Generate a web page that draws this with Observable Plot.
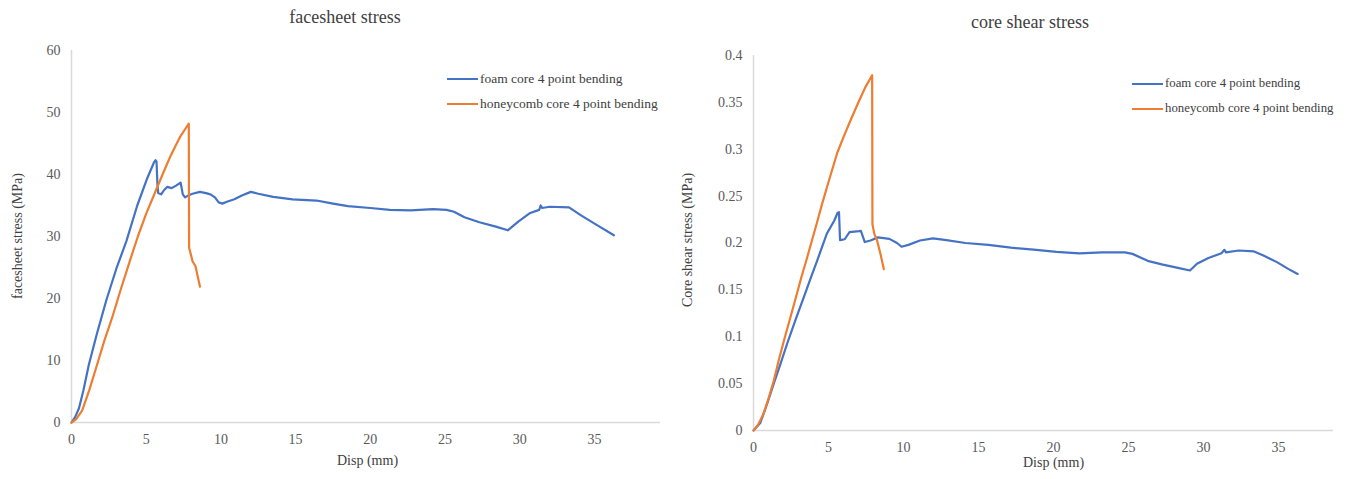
<!DOCTYPE html>
<html>
<head>
<meta charset="utf-8">
<script src="https://cdn.jsdelivr.net/npm/d3@7"></script>
<script src="https://cdn.jsdelivr.net/npm/@observablehq/plot@0.6"></script>
<style>
  html, body { margin: 0; padding: 0; background: #fff; overflow: hidden; }
  #wrap { position: relative; width: 1347px; height: 479px; font-family: 'Liberation Serif', 'DejaVu Serif', serif; }
  .abs { position: absolute; white-space: nowrap; font-family: 'Liberation Serif', serif; }
  .title { font-size: 18px; color: #404040; transform: translateX(-50%); }
  .axt { font-size: 14px; color: #404040; }
  .ytitle { font-size: 14px; color: #404040; transform: translate(-50%, -50%) rotate(-90deg); }
  .leg { font-family: 'Liberation Serif', serif; font-size: 13.5px; color: #404040; display: flex; align-items: center; }
  .leg span.sw { display: inline-block; width: 31px; height: 2px; margin-right: 2px; flex: none; }
</style>
</head>
<body>
<div id="wrap"></div>
<script>
// ---------- data ----------
const seriesNames = ["foam core 4 point bending", "honeycomb core 4 point bending"];
const seriesColors = ["#4472C4", "#ED7D31"];

const xTicks = [0, 5, 10, 15, 20, 25, 30, 35];
const faceTicks = [0, 10, 20, 30, 40, 50, 60];
const shearTicks = [0, 0.05, 0.1, 0.15, 0.2, 0.25, 0.3, 0.35, 0.4];

// facesheet stress – foam core
const foamFaceX = [0, 0.25, 0.5, 0.8, 1.16, 1.7, 2.34, 3.0, 3.68, 4.4, 5.07, 5.51, 5.62, 5.69, 5.75, 5.8, 6.0, 6.2, 6.4, 6.7, 7.0, 7.3, 7.45, 7.6, 7.8, 8.1, 8.6, 9.0, 9.3, 9.6, 9.85, 10.1, 10.4, 10.9, 11.4, 12.0, 12.5, 13.5, 14.8, 16.4, 17.5, 18.5, 20.0, 21.3, 22.7, 24.2, 25.1, 25.6, 26.3, 27.3, 28.4, 29.2, 29.9, 30.7, 31.3, 31.4, 31.5, 32.0, 33.3, 34.1, 35.2, 36.3];
const foamFaceY = [0, 0.9, 2.3, 5.2, 9.3, 14.3, 19.8, 24.8, 29.3, 35.0, 39.4, 41.9, 42.3, 42.1, 38.5, 37.0, 36.8, 37.5, 38.0, 37.8, 38.2, 38.7, 36.8, 36.3, 36.6, 36.9, 37.2, 37.0, 36.8, 36.3, 35.5, 35.3, 35.6, 36.0, 36.6, 37.2, 36.9, 36.4, 36.0, 35.8, 35.3, 34.9, 34.6, 34.3, 34.2, 34.4, 34.3, 34.0, 33.1, 32.3, 31.6, 31.0, 32.4, 33.8, 34.3, 35.0, 34.6, 34.8, 34.7, 33.4, 31.8, 30.2];

// facesheet stress – honeycomb core
const honeyFaceX = [0, 0.3, 0.71, 1.2, 1.72, 2.2, 2.72, 3.3, 3.95, 4.44, 5.0, 5.73, 6.2, 6.63, 7.0, 7.3, 7.6, 7.85, 7.87, 8.0, 8.1, 8.3, 8.45, 8.6];
const honeyFaceY = [0, 0.5, 1.9, 5.3, 9.4, 13.2, 16.9, 21.5, 26.4, 30.0, 33.7, 37.9, 40.6, 43.0, 44.8, 46.2, 47.3, 48.2, 28.2, 27.0, 26.0, 25.2, 23.5, 21.9];

// core shear stress – foam core
const foamShearX = [0, 0.45, 0.9, 1.35, 1.8, 2.24, 2.8, 3.35, 3.8, 4.24, 4.89, 5.39, 5.6, 5.7, 5.77, 6.08, 6.4, 7.04, 7.16, 7.42, 7.8, 8.3, 9.06, 9.57, 9.87, 10.33, 11.1, 11.97, 12.86, 14.13, 15.65, 17.16, 18.68, 20.2, 21.72, 23.24, 24.76, 25.27, 26.28, 27.29, 28.3, 29.1, 29.57, 30.33, 31.2, 31.4, 31.5, 32.35, 33.37, 34.0, 34.9, 35.65, 36.28];
const foamShearY = [0, 0.008, 0.028, 0.05, 0.071, 0.0925, 0.118, 0.142, 0.162, 0.181, 0.21, 0.224, 0.232, 0.233, 0.203, 0.204, 0.2116, 0.2126, 0.213, 0.201, 0.2027, 0.206, 0.2044, 0.2, 0.196, 0.198, 0.2027, 0.205, 0.203, 0.2, 0.198, 0.195, 0.193, 0.1906, 0.189, 0.19, 0.19, 0.1884, 0.181, 0.177, 0.1735, 0.1707, 0.1778, 0.184, 0.189, 0.1927, 0.19, 0.192, 0.191, 0.1867, 0.1796, 0.1724, 0.167];

// core shear stress – honeycomb core
const honeyShearX = [0, 0.3, 0.67, 1.0, 1.35, 1.7, 2.1, 2.5, 2.88, 3.2, 3.55, 3.9, 4.22, 4.58, 5.0, 5.58, 6.0, 6.5, 7.02, 7.45, 7.91, 7.93, 8.05, 8.24, 8.47, 8.69];
const honeyShearY = [0, 0.006, 0.018, 0.034, 0.053, 0.076, 0.1, 0.123, 0.145, 0.164, 0.183, 0.203, 0.221, 0.242, 0.265, 0.296, 0.313, 0.332, 0.351, 0.366, 0.379, 0.22, 0.21, 0.2027, 0.188, 0.172];

// ---------- build ----------
const toRows = (xs, ys) => xs.map((x, i) => ({ x, y: ys[i] }));
const wrap = document.getElementById("wrap");

function makeChart(cfg) {
  const chart = Plot.plot({
    width: cfg.width,
    height: 479,
    marginLeft: cfg.ml, marginRight: cfg.mr, marginTop: cfg.mt, marginBottom: cfg.mb,
    x: { domain: cfg.xDomain, ticks: xTicks, tickSize: 0, tickPadding: 12, label: null, tickFormat: d => String(d) },
    y: { domain: cfg.yDomain, ticks: cfg.yTicks, tickSize: 0, tickPadding: 11, label: null, tickFormat: d => String(d) },
    style: { fontFamily: "'Liberation Serif', serif", fontSize: "14px", color: "#595959", background: "transparent", overflow: "visible" },
    marks: [
      Plot.ruleY([cfg.yDomain[0]], { stroke: "#d9d9d9", strokeWidth: 1.5 }),
      Plot.ruleX([0], { stroke: "#d9d9d9", strokeWidth: 1.5 }),
      Plot.line(cfg.foam, { x: "x", y: "y", stroke: seriesColors[0], strokeWidth: 2.2, strokeLinejoin: "round" }),
      Plot.line(cfg.honey, { x: "x", y: "y", stroke: seriesColors[1], strokeWidth: 2.2, strokeLinejoin: "round" })
    ]
  });
  chart.style.position = "absolute";
  chart.style.left = cfg.left + "px";
  chart.style.top = "0px";
  chart.style.fontFamily = "'Liberation Serif', serif";
  wrap.appendChild(chart);
}

makeChart({
  left: 0, width: 680, ml: 71, mr: 20, mt: 50, mb: 57,
  xDomain: [0, 39.42], yDomain: [0, 60], yTicks: faceTicks,
  foam: toRows(foamFaceX, foamFaceY), honey: toRows(honeyFaceX, honeyFaceY)
});
makeChart({
  left: 680, width: 667, ml: 73, mr: 14, mt: 55, mb: 49,
  xDomain: [0, 38.67], yDomain: [0, 0.4], yTicks: shearTicks,
  foam: toRows(foamShearX, foamShearY), honey: toRows(honeyShearX, honeyShearY)
});

function addText(cls, text, left, top) {
  const d = document.createElement("div");
  d.className = "abs " + cls;
  d.textContent = text;
  d.style.left = left + "px";
  d.style.top = top + "px";
  wrap.appendChild(d);
  return d;
}

addText("title", "facesheet stress", 345, 7);
addText("title", "core shear stress", 1030, 12);
addText("axt", "Disp (mm)", 337, 453);
addText("axt", "Disp (mm)", 1023, 455);
addText("ytitle", "facesheet stress (MPa)", 18, 236);
addText("ytitle", "Core shear stress (MPa)", 688, 240);

function addLegend(left, top, gap, fontSize) {
  const box = document.createElement("div");
  box.className = "abs";
  box.style.left = left + "px";
  box.style.top = top + "px";
  seriesNames.forEach((name, i) => {
    const row = document.createElement("div");
    row.className = "leg";
    row.style.height = gap + "px";
    row.style.fontSize = fontSize + "px";
    const sw = document.createElement("span");
    sw.className = "sw";
    sw.style.background = seriesColors[i];
    row.appendChild(sw);
    const t = document.createElement("span");
    t.textContent = name;
    t.style.flex = "none";
    row.appendChild(t);
    box.appendChild(row);
  });
  wrap.appendChild(box);
}
addLegend(447, 66, 25, 13.5);
addLegend(1132, 71, 25, 12.8);
</script>
</body>
</html>
